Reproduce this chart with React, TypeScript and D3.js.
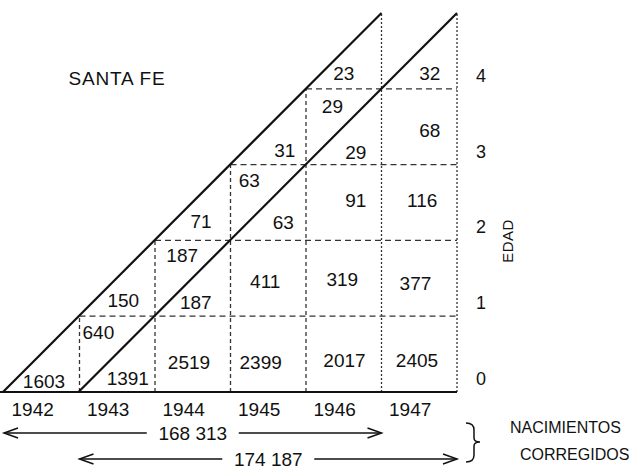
import React from "react";
import * as d3 from "d3";

// Lexis diagram, Santa Fe: deaths by calendar year and age
const years = [1942, 1943, 1944, 1945, 1946, 1947];
const yearEnd = 1948;
const ages = [0, 1, 2, 3, 4];
const maxAge = 5;
const cohorts = [1942, 1943];

// cell counts, located at (year, age) in diagram units
const cellValues = ["1603", "1391", "640", "150", "2519", "187", "187", "411", "2399", "71", "63", "63", "31", "23", "29", "29", "32", "68", "91", "116", "319", "377", "2017", "2405"];
const cellYears = [1942.53, 1943.64, 1943.25, 1943.58, 1944.45, 1944.36, 1944.54, 1945.46, 1945.4, 1944.61, 1945.7, 1945.25, 1945.72, 1946.5, 1946.35, 1946.66, 1947.64, 1947.64, 1946.66, 1947.54, 1946.48, 1947.45, 1946.51, 1947.47];
const cellAges = [0.14, 0.18, 0.79, 1.21, 0.39, 1.8, 1.18, 1.46, 0.39, 2.25, 2.24, 2.79, 3.18, 4.2, 3.76, 3.16, 4.2, 3.45, 2.53, 2.53, 1.49, 1.43, 0.42, 0.42];

// corrected births per cohort span
const birthLabels = ["168 313", "174 187"];
const birthFrom = [1942, 1943];
const birthTo = [1947, 1948];

const W = 639;
const H = 471;
const font = "'Liberation Sans', Arial, sans-serif";
const ink = "#111";

export default function App() {
  const x = d3.scaleLinear().domain([1942, yearEnd]).range([4, 457]);
  const y = d3.scaleLinear().domain([0, maxAge]).range([392, 13]);

  const vLines = years.slice(1).concat([yearEnd]);
  const arrowY = [433, 459];

  const chevron = (px: number, py: number, dir: number) =>
    `M${px + dir * 14},${py - 5} L${px},${py} L${px + dir * 14},${py + 5}`;

  return (
    <div style={{ position: "absolute", left: 0, top: 0 }}>
      <svg width={W} height={H} style={{ background: "#fff", display: "block" }}>
        {/* vertical year boundaries, clipped at the first cohort line */}
        {vLines.map((yr) => (
          <line key={"v" + yr} x1={x(yr)} x2={x(yr)} y1={y(0)} y2={y(Math.min(maxAge, yr - cohorts[0]))}
            stroke="#333" strokeWidth={1.3} strokeDasharray={yr >= 1947 ? "2,2" : "4,3"} />
        ))}
        {/* horizontal age boundaries */}
        {ages.slice(1).map((a) => (
          <line key={"h" + a} x1={x(cohorts[0] + a)} x2={x(yearEnd)} y1={y(a)} y2={y(a)}
            stroke="#333" strokeWidth={1.3} strokeDasharray="6,4" />
        ))}
        {/* baseline */}
        <line x1={x(1942) - 4} x2={x(yearEnd)} y1={y(0)} y2={y(0)} stroke={ink} strokeWidth={2} />
        {/* cohort life lines */}
        {cohorts.map((c) => (
          <line key={"c" + c} x1={x(c) - 1} y1={y(0)} x2={x(c + maxAge)} y2={y(maxAge)} stroke={ink} strokeWidth={2.2} />
        ))}
        {/* counts */}
        {cellValues.map((v, i) => (
          <text key={"n" + i} x={x(cellYears[i])} y={y(cellAges[i])} textAnchor="middle" dominantBaseline="central"
            fontFamily={font} fontSize={19} fill={ink}>{v}</text>
        ))}
        {/* year labels */}
        {years.map((yr) => (
          <text key={"y" + yr} x={x(yr + 0.38)} y={416} textAnchor="middle" fontFamily={font} fontSize={19} fill={ink}>{yr}</text>
        ))}
        {/* age ticks */}
        {ages.map((a) => (
          <text key={"a" + a} x={481} y={y(a) - 13} textAnchor="middle" dominantBaseline="central"
            fontFamily={font} fontSize={18} fill={ink}>{a}</text>
        ))}
        <text transform="translate(507,241) rotate(-90)" textAnchor="middle" dominantBaseline="central"
          fontFamily={font} fontSize={15} letterSpacing={0.5} fill={ink}>EDAD</text>
        <text x={117} y={85} textAnchor="middle" fontFamily={font} fontSize={19} letterSpacing={0.8} fill={ink}>SANTA FE</text>
        {/* births arrows */}
        {birthLabels.map((lab, i) => {
          const x0 = x(birthFrom[i]);
          const x1 = x(birthTo[i]);
          const mid = (x0 + x1) / 2;
          const gap = 46;
          const ay = arrowY[i];
          return (
            <g key={"b" + i}>
              <line x1={x0} x2={mid - gap} y1={ay} y2={ay} stroke={ink} strokeWidth={1.5} />
              <line x1={mid + gap} x2={x1} y1={ay} y2={ay} stroke={ink} strokeWidth={1.5} />
              <path d={chevron(x0, ay, 1)} fill="none" stroke={ink} strokeWidth={1.5} />
              <path d={chevron(x1, ay, -1)} fill="none" stroke={ink} strokeWidth={1.5} />
              <text x={mid} y={ay} textAnchor="middle" dominantBaseline="central" fontFamily={font} fontSize={19} fill={ink}>{lab}</text>
            </g>
          );
        })}
        <path d="M466,423 Q474,423 474,430 L474,438 Q474,442 480,442 Q474,442 474,446 L474,455 Q474,462 466,462"
          fill="none" stroke={ink} strokeWidth={1.5} />
        <text x={510} y={433} fontFamily={font} fontSize={16} fill={ink}>NACIMIENTOS</text>
        <text x={520} y={460} fontFamily={font} fontSize={16} fill={ink}>CORREGIDOS</text>
      </svg>
    </div>
  );
}
